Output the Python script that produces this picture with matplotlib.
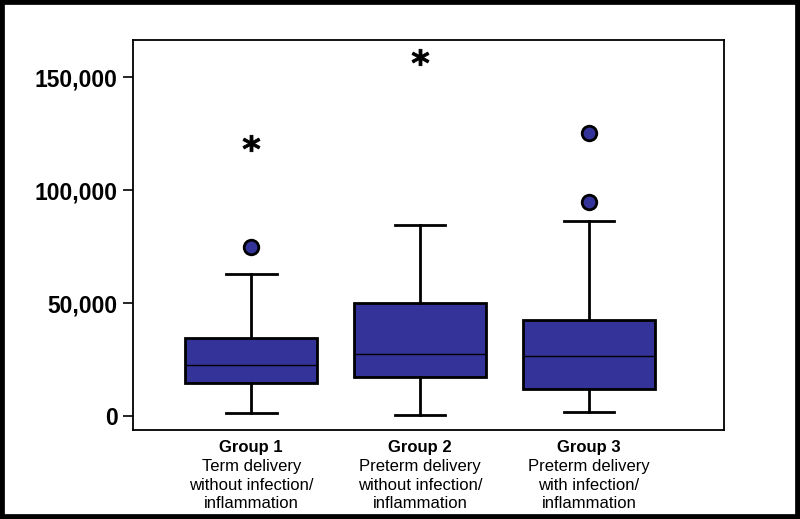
import numpy as np
import matplotlib.pyplot as plt
from matplotlib.patches import Rectangle

# group stats
groups = ["Group 1", "Group 2", "Group 3"]
subtitles = ["Term delivery\nwithout infection/\ninflammation",
             "Preterm delivery\nwithout infection/\ninflammation",
             "Preterm delivery\nwith infection/\ninflammation"]
whislo = [1300, 400, 1800]
q1 = [14600, 17300, 11900]
med = [22600, 27400, 26500]
q3 = [34500, 50000, 42500]
whishi = [62800, 84500, 86300]
# outliers (circles) and extremes (asterisks)
out_x = [1, 3, 3]
out_y = [74800, 94700, 125200]
ext_x = [1, 2]
ext_y = [121000, 159000]

box_col = "#333399"
plt.rcParams['font.family'] = ['Liberation Sans', 'DejaVu Sans']

fig = plt.figure(figsize=(8, 5.19), dpi=100)
ax = fig.add_axes([133/800, 1 - 430/519, (724-133)/800, (430-40)/519])

stats = []
for i in range(3):
    stats.append(dict(med=med[i], q1=q1[i], q3=q3[i], whislo=whislo[i],
                      whishi=whishi[i], fliers=[]))

ax.bxp(stats, positions=[1, 2, 3], widths=0.78, patch_artist=True,
       showfliers=False,
       boxprops=dict(facecolor=box_col, edgecolor="black", linewidth=2),
       medianprops=dict(color="black", linewidth=1),
       whiskerprops=dict(color="black", linewidth=2),
       capprops=dict(color="black", linewidth=2),
       capwidths=0.30)

ax.scatter(out_x, out_y, s=110, color=box_col, edgecolor="black",
           linewidth=2, zorder=5)
ax.scatter(ext_x, ext_y, s=150, marker=r'$\mathbf{*}$', color="black",
           linewidth=0.6, edgecolor="black", zorder=5)

ax.set_xlim(0.30, 3.80)
ax.set_ylim(-6200, 166400)
ax.set_yticks([0, 50000, 100000, 150000])
ax.set_yticklabels(["0", "50,000", "100,000", "150,000"],
                   fontsize=16.5, fontweight="bold")
ax.tick_params(axis="y", direction="out", length=7, width=1.2, pad=4)
ax.set_xticks([])
for s in ax.spines.values():
    s.set_linewidth(1.3)

for i in range(3):
    ax.text(i + 1, -0.025, groups[i], transform=ax.get_xaxis_transform(),
            ha="center", va="top", fontsize=12, fontweight="bold")
    ax.text(i + 1, -0.075, subtitles[i], transform=ax.get_xaxis_transform(),
            ha="center", va="top", fontsize=12, linespacing=1.3)

# black frame around the whole picture
fig.add_artist(Rectangle((0, 0), 1, 1, transform=fig.transFigure,
                         fill=False, edgecolor="black", linewidth=7))

fig.savefig("out.png", dpi=100)
